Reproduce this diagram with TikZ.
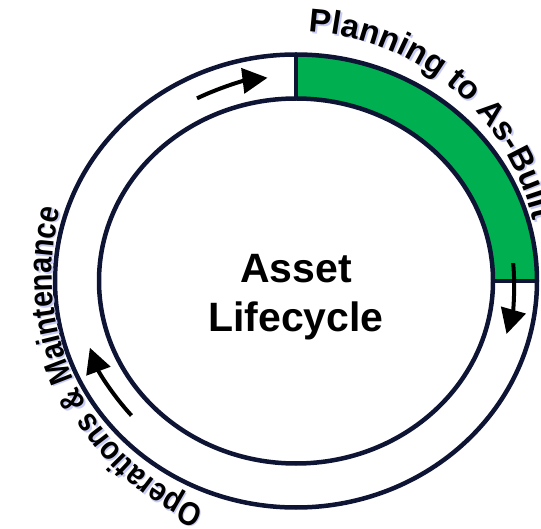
\documentclass[tikz,border=0pt]{standalone}
\usepackage{fontspec}
\setmainfont{Liberation Sans}
\newfontfamily\narrowarcfamily[FakeStretch=0.87]{Liberation Sans}
\usetikzlibrary{arrows.meta, calc, decorations.text}
\definecolor{ringnavy}{RGB}{14,20,52}
\definecolor{phasegreen}{RGB}{0,176,80}
\definecolor{glowblue}{RGB}{200,204,242}
\newcommand{\arclabelfont}{\bfseries\fontsize{33}{33}\selectfont}
\newcommand{\narrowlabelfont}{\narrowarcfamily\bfseries\fontsize{33}{33}\selectfont}
\tikzstyle{ringline} = [draw=ringnavy, line width=4.5pt]
\tikzstyle{phasefill} = [fill=phasegreen]
\tikzstyle{cyclearrow} = [-{Triangle[length=25pt,width=25pt]}, line width=4pt, black]
\tikzstyle{centerlabel} = [font=\bfseries\fontsize{41}{41}\selectfont, anchor=base, inner sep=0pt]
\tikzset{arclabel/.style={decorate, decoration={text along path, text align=left,
	text={|\arclabelfont|#1}}},
	arcglow/.style={decorate, decoration={text along path, text align=left,
	text={|\arclabelfont\color{glowblue}|#1}}},
	narrowlabel/.style={decorate, decoration={text along path, text align=left,
	text={|\narrowlabelfont|#1}}},
	narrowglow/.style={decorate, decoration={text along path, text align=left,
	text={|\narrowlabelfont\color{glowblue}|#1}}}}

\begin{document}
\begin{tikzpicture}
		\useasboundingbox (0,0) rectangle (541pt,528pt);
		\coordinate (ring_center) at (296pt,247pt);
		\coordinate (text_center) at (296pt,253.5pt);
		\coordinate (top_outer) at ($(ring_center)+(90:241pt and 226.5pt)$);
		\coordinate (top_inner) at ($(ring_center)+(90:197pt and 182.5pt)$);
		\coordinate (right_outer) at ($(ring_center)+(0:241pt and 226.5pt)$);
		\coordinate (right_inner) at ($(ring_center)+(0:197pt and 182.5pt)$);
		% planning phase
		\fill [phasefill] (top_outer) arc [start angle=90, end angle=0, x radius=241pt, y radius=226.5pt]
		-- (right_inner) arc [start angle=0, end angle=90, x radius=197pt, y radius=182.5pt] -- cycle;
		\draw [ringline] (ring_center) ellipse [x radius=241pt, y radius=226.5pt];
		\draw [ringline] (ring_center) ellipse [x radius=197pt, y radius=182.5pt];
		\draw [ringline] (top_inner) -- (top_outer);
		\draw [ringline] (right_inner) -- (right_outer);
		% arrows round the ring
		\draw [cyclearrow] ($(ring_center)+(117:218pt and 205pt)$) arc [start angle=117, end angle=97.5, x radius=218pt, y radius=205pt];
		\draw [cyclearrow] ($(ring_center)+(5:218pt and 205pt)$) arc [start angle=5, end angle=-15, x radius=218pt, y radius=205pt];
		\draw [cyclearrow] ($(ring_center)+(221:218pt and 205pt)$) arc [start angle=221, end angle=199, x radius=218pt, y radius=205pt];
		\node (asset_label) [centerlabel] at (296pt,245pt) {Asset};
		\node (lifecycle_label) [centerlabel] at (296pt,196pt) {Lifecycle};
		% phase names
		\path [arcglow={Planning to As-Built}] ($(text_center)+(1.5pt,-1.5pt)+(87:243pt)$) arc [start angle=87, end angle=5, radius=243pt];
		\path [arclabel={Planning to As-Built}] ($(text_center)+(87:243pt)$) arc [start angle=87, end angle=5, radius=243pt];
		\path [narrowglow={Operations {\&} Maintenance}] ($(text_center)+(1.5pt,-1.5pt)+(248:244pt and 252pt)$) arc [start angle=248, end angle=150, x radius=244pt, y radius=252pt];
		\path [narrowlabel={Operations {\&} Maintenance}] ($(text_center)+(248:244pt and 252pt)$) arc [start angle=248, end angle=150, x radius=244pt, y radius=252pt];
	\end{tikzpicture}
\end{document}
